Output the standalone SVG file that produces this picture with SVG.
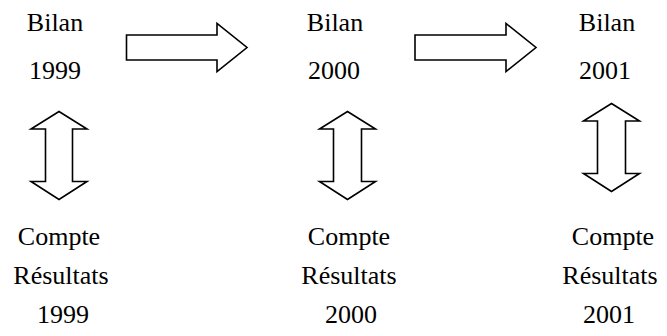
<svg xmlns="http://www.w3.org/2000/svg" width="667" height="336" viewBox="0 0 667 336">
<style>
text{font-family:"Times New Roman",Tinos,"Liberation Serif","Noto Serif","DejaVu Serif",FreeSerif,Times,serif;font-size:26px;fill:#000;text-anchor:middle}
.ar{fill:#fff;stroke:#000;stroke-width:1.6;stroke-linejoin:miter}
</style>
<rect width="667" height="336" fill="#fff"/>
<g id="bilan1999"><text x="55" y="31">Bilan</text><text x="55" y="79">1999</text></g>
<g id="bilan2000"><text x="335" y="31">Bilan</text><text x="334" y="79">2000</text></g>
<g id="bilan2001"><text x="607" y="31">Bilan</text><text x="605" y="79">2001</text></g>
<g id="cr1999"><text x="59" y="245">Compte</text><text x="61" y="284">Résultats</text><text x="63" y="323">1999</text></g>
<g id="cr2000"><text x="349" y="245">Compte</text><text x="349" y="284">Résultats</text><text x="351" y="323">2000</text></g>
<g id="cr2001"><text x="613" y="245">Compte</text><text x="610" y="284">Résultats</text><text x="609" y="323">2001</text></g>
<g id="connectors">
<polygon class="ar" points="126.5,35 217,35 217,23.5 247,47.5 217,71.5 217,60 126.5,60"/>
<polygon class="ar" points="415,35 506,35 506,23.5 536,47.5 506,71.5 506,60 415,60"/>
<polygon class="ar" points="59,111.5 87,129 72.5,129 72.5,181.5 87,181.5 59,199.5 31,181.5 45.5,181.5 45.5,129 31,129"/>
<polygon class="ar" points="347.5,111.5 375.5,129 361.5,129 361.5,181.5 375.5,181.5 347.5,199.5 319.5,181.5 333.5,181.5 333.5,129 319.5,129"/>
<polygon class="ar" points="611.5,103.5 639.5,121 625.5,121 625.5,173.5 639.5,173.5 611.5,191.5 583.5,173.5 597.5,173.5 597.5,121 583.5,121"/>
</g>
</svg>
